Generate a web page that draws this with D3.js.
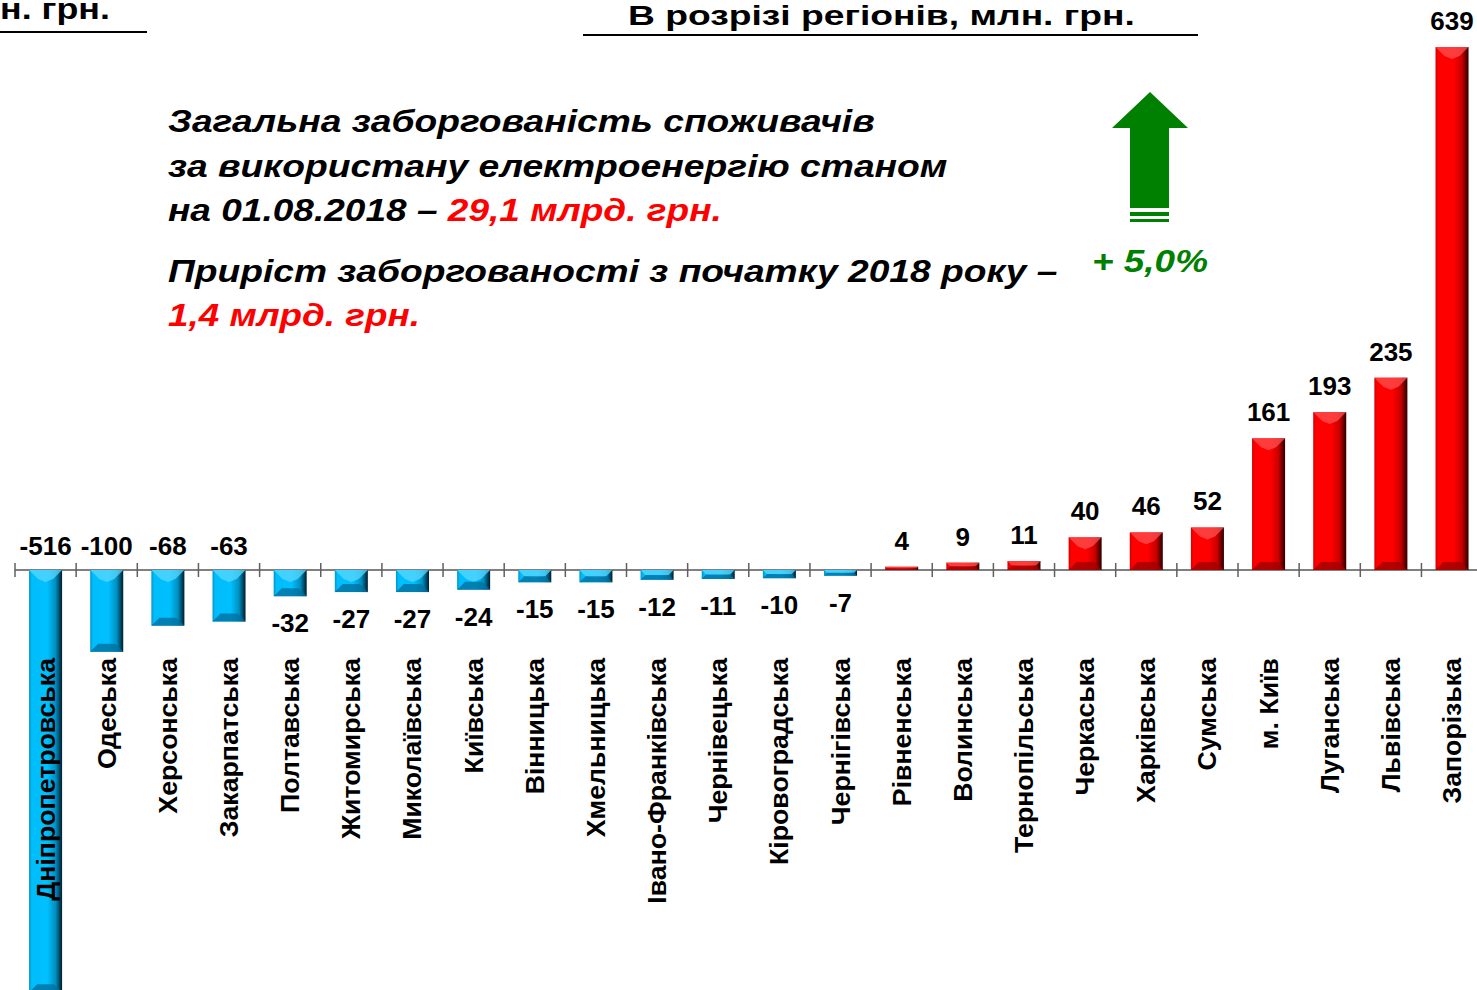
<!DOCTYPE html>
<html>
<head>
<meta charset="utf-8">
<script src="https://cdn.jsdelivr.net/npm/d3@7"></script>
<style>
  body { margin: 0; background: #fff; }
  svg { display: block; font-family: Arial, "Liberation Sans", sans-serif; }
</style>
</head>
<body>
<div id="chart"></div>
<script>
const regions = ["Дніпропетровська", "Одеська", "Херсонська", "Закарпатська", "Полтавська",
    "Житомирська", "Миколаївська", "Київська", "Вінницька", "Хмельницька",
    "Івано-Франківська", "Чернівецька", "Кіровоградська", "Чернігівська", "Рівненська",
    "Волинська", "Тернопільська", "Черкаська", "Харківська", "Сумська",
    "м. Київ", "Луганська", "Львівська", "Запорізька"];
const values = [-516, -100, -68, -63, -32, -27, -27, -24, -15, -15, -12, -11, -10, -7,
    4, 9, 11, 40, 46, 52, 161, 193, 235, 639];

const width = 1477, height = 990;
const baseY = 570;

const svg = d3.select("#chart").append("svg")
    .attr("width", width)
    .attr("height", height);

const defs = svg.append("defs");
function grad(id, stops) {
    const g = defs.append("linearGradient").attr("id", id)
        .attr("x1", "0%").attr("x2", "100%").attr("y1", "0%").attr("y2", "0%");
    stops.forEach(s => g.append("stop").attr("offset", s[0]).attr("stop-color", s[1]));
}
grad("gBlue", [["0%", "#0094c8"], ["8%", "#00bdfb"], ["55%", "#00c0ff"], ["80%", "#0090c0"], ["100%", "#001c2c"]]);
grad("gRed", [["0%", "#d00000"], ["8%", "#ff0000"], ["55%", "#ff0000"], ["80%", "#c80000"], ["100%", "#2a0000"]]);

// stretch a text horizontally so it spans `target` px starting at x0
function fitWidth(sel, x0, target) {
    const w = sel.node().getBBox().width;
    const s = target / w;
    sel.attr("transform", `translate(${x0},0) scale(${s},1) translate(${-x0},0)`);
}

const x = d3.scaleBand()
    .domain(regions)
    .range([15, 15 + 24 * 61.15])
    .paddingInner(0.46)
    .paddingOuter(0.23);

const y = d3.scaleLinear()
    .domain([0, 639])
    .range([baseY, 47]);

// axis line + ticks between categories
const ax = svg.append("g");
ax.append("line")
    .attr("x1", 15).attr("x2", width)
    .attr("y1", baseY).attr("y2", baseY)
    .attr("stroke", "#808080").attr("stroke-width", 2);
const step = x.step();
ax.selectAll(".tk")
    .data(d3.range(regions.length + 1))
    .enter().append("line")
    .attr("x1", i => x(regions[0]) - x.paddingOuter() * step + i * step)
    .attr("x2", i => x(regions[0]) - x.paddingOuter() * step + i * step)
    .attr("y1", baseY - 7).attr("y2", baseY + 7)
    .attr("stroke", "#606060").attr("stroke-width", 1.5);

const data = regions.map((r, i) => ({region: r, value: values[i]}));

const bars = svg.selectAll(".bar")
    .data(data)
    .enter().append("g")
    .attr("class", "bar");

bars.append("rect")
    .attr("x", d => x(d.region))
    .attr("y", d => Math.min(y(d.value), y(0)))
    .attr("width", x.bandwidth())
    .attr("height", d => Math.abs(y(d.value) - y(0)))
    .attr("fill", d => d.value < 0 ? "url(#gBlue)" : "url(#gRed)");

// bevel on top (lighter chevron) and bottom (darker band)
bars.append("path")
    .attr("d", d => {
        const x0 = x(d.region), x1 = x0 + x.bandwidth();
        const top = Math.min(y(d.value), y(0)), h = Math.abs(y(d.value) - y(0));
        const b = Math.min(9, h / 2);
        return `M${x0},${top}L${x1},${top}L${x1 - b},${top + b}L${(x0 + x1) / 2},${top + b + 3 * b / 9}L${x0 + b},${top + b}Z`;
    })
    .attr("fill", d => d.value < 0 ? "#5ad8ff" : "#ff5050")
    .attr("opacity", 0.75);

bars.append("path")
    .attr("d", d => {
        const x0 = x(d.region), x1 = x0 + x.bandwidth();
        const bot = Math.max(y(d.value), y(0)), h = Math.abs(y(d.value) - y(0));
        const b = Math.min(8, h / 2);
        return `M${x0},${bot}L${x1},${bot}L${x1 - b},${bot - b}L${x0 + b},${bot - b}Z`;
    })
    .attr("fill", d => d.value < 0 ? "#0070a0" : "#a00000")
    .attr("opacity", 0.8);

// value labels
svg.selectAll(".val")
    .data(data)
    .enter().append("text")
    .attr("class", "val")
    .attr("x", d => x(d.region) + x.bandwidth() / 2)
    .attr("y", d => {
        if (d.value >= 0) return y(d.value) - 17;
        const below = y(d.value) + 36;
        return below > 640 ? 555 : below;
    })
    .attr("text-anchor", "middle")
    .attr("font-size", 26)
    .attr("font-weight", "bold")
    .attr("fill", "#000")
    .text(d => d.value);

// category labels (vertical)
svg.selectAll(".cat")
    .data(regions)
    .enter().append("text")
    .attr("class", "cat")
    .attr("transform", d => `translate(${x(d) + x.bandwidth() / 2 + 9},658) rotate(-90)`)
    .attr("text-anchor", "end")
    .attr("font-size", 26.7)
    .attr("font-weight", "bold")
    .attr("fill", "#000")
    .text(d => d);

// headers
const h1 = svg.append("text")
    .attr("x", 0).attr("y", 19)
    .attr("font-size", 30).attr("font-weight", "bold")
    .text("н. грн.");
fitWidth(h1, 0, 110);
svg.append("line")
    .attr("x1", 0).attr("x2", 147).attr("y1", 32).attr("y2", 32)
    .attr("stroke", "#000").attr("stroke-width", 2);

const h2 = svg.append("text")
    .attr("x", 628).attr("y", 25)
    .attr("font-size", 28).attr("font-weight", "bold")
    .text("В розрізі регіонів, млн. грн.");
fitWidth(h2, 628, 507);
svg.append("line")
    .attr("x1", 583).attr("x2", 1198).attr("y1", 35).attr("y2", 35)
    .attr("stroke", "#000").attr("stroke-width", 2);

// annotation text
const note = svg.append("g")
    .attr("font-size", 32).attr("font-weight", "bold").attr("font-style", "italic");
const lines = [
    [["Загальна заборгованість споживачів", "#000"]],
    [["за використану електроенергію станом", "#000"]],
    [["на 01.08.2018 – ", "#000"], ["29,1 млрд. грн.", "#ff0000"]],
    [["Приріст заборгованості з початку 2018 року –", "#000"]],
    [["1,4 млрд. грн.", "#ff0000"]]
];
const lineY = [132, 177, 221, 282, 326];
const lineW = [707, 780, 554, 890, 252];
lines.forEach((ln, i) => {
    const t = note.append("text").attr("x", 168).attr("y", lineY[i]);
    ln.forEach(p => t.append("tspan").attr("fill", p[1]).text(p[0]));
    fitWidth(t, 168, lineW[i]);
});

// green arrow
const arrow = svg.append("g").attr("fill", "#008000");
arrow.append("path")
    .attr("d", "M1150,92L1188,128L1169,128L1169,208L1130,208L1130,128L1112,128Z");
arrow.append("rect").attr("x", 1130).attr("y", 212).attr("width", 39).attr("height", 4);
arrow.append("rect").attr("x", 1130).attr("y", 219).attr("width", 39).attr("height", 3);

const pct = svg.append("text")
    .attr("x", 1092).attr("y", 272)
    .attr("font-size", 32).attr("font-weight", "bold").attr("font-style", "italic")
    .attr("fill", "#008000")
    .text("+ 5,0%");
fitWidth(pct, 1092, 116);
</script>
</body>
</html>
